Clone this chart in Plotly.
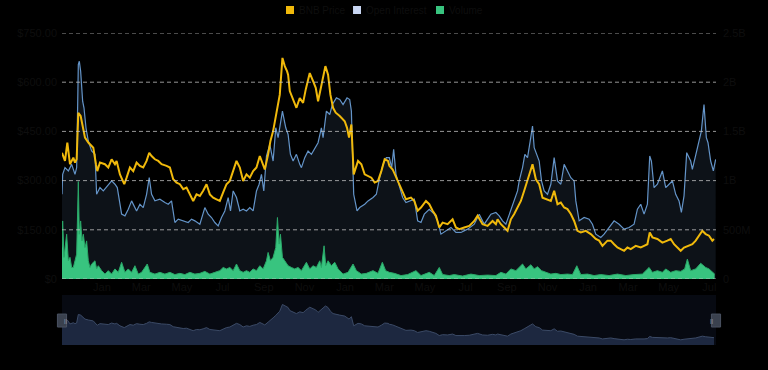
import pandas as pd
import plotly.graph_objects as go

# ---------------- data ----------------
start_date = "2021-11-02"
span_days = 982

price_days = [0, 4.5, 8, 12, 17, 19.5, 22, 24.5, 28, 32, 34.5, 39.5, 44.5, 47, 51, 53, 57, 64.5, 69.5, 74.5,
              79.5, 82, 87, 93.5, 97, 102, 107, 112, 117, 122, 127, 131, 134.5, 139.5, 144.5, 149.5, 157, 162, 167, 172,
              177, 182, 187, 192, 197, 202, 207, 212, 217, 222, 227, 232, 237, 242, 247, 252, 257, 262, 267, 272,
              277, 282, 287, 292, 297, 299.5, 304.5, 309.5, 313, 317, 321, 324.5, 327, 331, 334.5, 338, 339.5, 342, 347, 352,
              357, 362, 366, 369.5, 372, 377, 381, 384.5, 389.5, 392, 395.5, 399.5, 403, 407, 411, 417, 424.5, 428, 431, 434.5,
              438, 444.5, 449.5, 454.5, 459.5, 464.5, 469.5, 474.5, 479.5, 484.5, 489.5,
              491.5, 496.5, 504, 511.5, 516.5, 524, 529, 534, 539, 546.5, 551.5, 556.5, 561.5, 566.5, 571.5, 579, 586.5, 591.5,
              596.5, 604, 611.5, 619, 624, 631.5, 639, 646.5, 651.5, 654, 659, 669, 674, 679, 684, 689, 694, 701.5, 706.5,
              711.5, 716.5, 721.5, 726.5, 734, 739, 744, 749, 754, 759, 764, 769, 774, 779, 786.5, 794, 801.5, 806.5, 811.5,
              819, 824, 829, 834, 839, 844, 849, 854, 861.5, 869, 874, 879, 882.5, 886.5, 894, 901.5, 909, 914, 919, 924,
              929, 934, 941.5, 946.5, 951.5, 956.5, 961.5, 966.5, 971.5, 976.5, 979]
price_usd = [385, 360, 416, 350, 370, 355, 365, 507, 497, 461, 431, 416, 405, 400, 350, 329, 355, 350, 340, 365,
             350, 360, 319, 289, 309, 340, 329, 355, 345, 340, 360, 385, 375, 365, 360, 350, 345, 340, 304, 294,
             289, 274, 279, 258, 238, 258, 253, 269, 289, 258, 248, 243, 238, 264, 289, 299, 329, 360, 340, 299,
             319, 309, 329, 340, 375, 360, 334, 380, 421, 451, 492, 532, 562, 674, 649, 633, 623, 573, 547, 522,
             552, 537, 578, 613, 628, 603, 583, 542, 593, 623, 649, 623, 562, 522, 507, 497, 481, 461, 431, 471,
             319, 360, 350, 319, 314, 309, 294, 299, 329, 365, 360,
             345, 334, 299, 269, 243, 248, 238, 208, 218, 238, 228, 208, 193, 157, 172, 167, 182, 157,
             152, 157, 162, 177, 193, 167, 162, 177, 167, 182, 167, 147, 182, 198, 218, 238, 269, 319, 350,
             304, 289, 248, 243, 238, 269, 228, 233, 218, 213, 198, 177, 147, 142, 147, 137, 122, 117, 101,
             117, 117, 106, 96, 91, 86, 96, 91, 101, 96, 101, 106, 142, 127, 122, 111, 117, 122, 106, 96,
             86, 96, 101, 106, 117, 132, 147, 137, 132, 117, 122]

oi_days = [0, 1, 4.5, 9.5, 14.5, 19.5, 22, 24.5, 26, 28, 31, 33, 36, 39.5, 44.5, 49.5, 52, 57, 62, 69.5,
           74.5, 79.5, 83, 89.5, 94.5, 99.5, 104.5, 112, 117, 122, 127, 131, 134.5, 139.5, 147, 154.5, 159.5, 164.5, 169.5, 174.5,
           182, 189.5, 194.5, 199.5, 207, 214.5, 219.5, 224.5, 229.5, 234.5, 239.5, 244.5, 249.5, 253, 257, 262, 267, 272, 277, 282,
           287, 292, 296, 299.5, 303, 307, 312, 317, 321, 324.5, 331, 336, 339.5, 343, 347, 352, 357, 359.5, 364.5, 369.5,
           374.5, 379.5, 384.5, 389.5, 392, 397, 402, 406, 412, 417, 422, 428, 432, 434.5, 438, 443, 447, 454.5, 459.5, 467,
           472, 477, 482, 487,
           491.5, 495, 498, 501.5, 511.5, 516.5, 521.5, 529, 534, 539, 544, 551.5, 559, 564, 569, 576.5, 584, 591.5, 599, 609,
           619, 626.5, 634, 644, 651.5, 656.5, 661.5, 666.5, 671.5, 676.5, 679, 684, 686.5, 691.5, 695, 699, 703, 706.5, 709, 713,
           716.5, 720, 724, 729, 734, 739, 744, 749, 754, 759, 764, 769, 771.5, 776.5, 784, 791.5, 796.5, 801.5, 809, 814,
           821.5, 829, 836.5, 844, 851.5, 859, 864, 869, 874, 879, 882.5, 885, 889, 894, 901.5, 906.5, 911.5, 916.5, 921.5, 926.5,
           930, 934, 938, 944, 946.5, 951.5, 956.5, 960, 964, 967.5, 970, 974, 978, 981.5]
oi_usd_m = [861, 1064, 1132, 1098, 1165, 1064, 1132, 2179, 2213, 2111, 1807, 1740, 1537, 1402, 1301, 1267, 861, 929, 895, 963,
            997, 963, 929, 659, 642, 709, 794, 692, 760, 726, 861, 1030, 861, 794, 811, 777, 760, 794, 574, 608,
            591, 574, 608, 591, 557, 726, 659, 625, 574, 540, 625, 692, 828, 692, 895, 828, 692, 709, 692, 726,
            692, 895, 963, 1064, 895, 1250, 1368, 1199, 1537, 1436, 1706, 1537, 1469, 1267, 1199, 1267, 1165, 1132, 1233, 1301,
            1267, 1334, 1385, 1537, 1436, 1706, 1672, 1773, 1841, 1824, 1773, 1841, 1824, 1706, 861, 692, 726, 760, 794, 828,
            861, 1030, 1165, 1233,
            1233, 1132, 1317, 1064, 828, 777, 794, 811, 591, 574, 659, 709, 659, 591, 456, 490, 524, 473, 473, 507,
            557, 659, 557, 659, 676, 642, 591, 557, 659, 760, 794, 895, 997, 1132, 1267, 1233, 1402, 1554, 1334, 1267,
            1199, 997, 895, 861, 963, 1233, 997, 963, 1165, 1098, 1030, 997, 794, 591, 625, 608, 557, 456, 422, 456,
            524, 591, 557, 507, 524, 557, 709, 760, 659, 760, 1250, 1199, 929, 963, 1098, 929, 963, 997, 861, 794,
            676, 845, 1284, 1199, 1115, 1267, 1402, 1503, 1773, 1436, 1385, 1199, 1098, 1216]

vol_days = [0, 1, 3, 4.5, 7, 9.5, 12, 14.5, 17, 19.5, 22, 24.5, 26, 28, 30, 32, 34.5, 37, 39.5, 42,
            44.5, 49.5, 52, 54.5, 59.5, 64.5, 69.5, 74.5, 79.5, 84.5, 89.5, 94.5, 99.5, 104.5, 109.5, 114.5, 119.5, 128, 132, 139.5,
            147, 154.5, 162, 169.5, 177, 184.5, 192, 199.5, 207, 214.5, 222, 229.5, 237, 242, 247, 252, 257, 262, 267, 272,
            277, 282, 287, 292, 297, 302, 307, 309.5, 313, 317, 321, 323.5, 326, 328, 331, 334.5, 339.5, 344.5, 349.5, 354.5,
            359.5, 367, 372, 377, 382, 387, 389.5, 393.5, 396, 399.5, 404.5, 409.5, 414.5, 422, 429.5, 437, 442, 449.5, 457, 467,
            474.5, 481, 486,
            491.5, 499, 509, 519, 531.5, 539, 551.5, 559, 566.5, 571.5, 581.5, 589, 601.5, 614, 626.5, 639, 651.5, 659, 666.5, 674,
            681.5, 686.5, 691.5, 696.5, 704, 709, 714, 720, 726.5, 734, 741.5, 749, 759, 766.5, 773, 779, 789, 799, 809, 821.5,
            834, 846.5, 859, 871.5, 881.5, 886.5, 894, 901.5, 906.5, 914, 921.5, 929, 935, 939, 944, 951.5, 959, 963, 966.5, 971.5,
            976.5, 980]
vol_usd_b = [1.28, 2.36, 0.88, 1.28, 1.82, 0.74, 0.88, 0.47, 0.47, 0.74, 1.01, 3.96, 1.82, 2.36, 1.55, 1.82, 1.28, 1.55, 0.74, 0.47,
             0.61, 0.74, 0.41, 0.54, 0.34, 0.20, 0.34, 0.20, 0.41, 0.27, 0.68, 0.27, 0.41, 0.27, 0.54, 0.20, 0.27, 0.61, 0.27, 0.20,
             0.27, 0.20, 0.27, 0.18, 0.23, 0.18, 0.27, 0.20, 0.23, 0.31, 0.20, 0.27, 0.34, 0.47, 0.41, 0.47, 0.34, 0.61, 0.34, 0.27,
             0.34, 0.27, 0.41, 0.34, 0.54, 0.41, 0.74, 1.08, 0.74, 0.88, 1.28, 2.50, 1.42, 1.82, 0.88, 0.74, 0.54, 0.47, 0.41, 0.47,
             0.34, 0.68, 0.41, 0.54, 0.47, 0.74, 0.47, 1.35, 0.54, 0.74, 0.54, 0.68, 0.41, 0.20, 0.27, 0.61, 0.34, 0.20, 0.23, 0.34,
             0.23, 0.68, 0.34,
             0.27, 0.23, 0.14, 0.18, 0.34, 0.14, 0.27, 0.14, 0.47, 0.18, 0.14, 0.18, 0.12, 0.20, 0.14, 0.16, 0.14, 0.27, 0.20, 0.41,
             0.34, 0.47, 0.61, 0.41, 0.58, 0.41, 0.50, 0.34, 0.27, 0.20, 0.23, 0.18, 0.20, 0.18, 0.54, 0.18, 0.20, 0.14, 0.18, 0.14,
             0.20, 0.14, 0.18, 0.20, 0.47, 0.27, 0.34, 0.27, 0.41, 0.27, 0.34, 0.31, 0.41, 0.81, 0.34, 0.41, 0.64, 0.54, 0.47, 0.41,
             0.27, 0.20]

price_ticks = [0, 150, 300, 450, 600, 750]
price_tick_text = ["$0", "$150.00", "$300.00", "$450.00", "$600.00", "$750.00"]
oi_ticks = [0, 500, 1000, 1500, 2000, 2500]
oi_tick_text = ["0", "500M", "1B", "1.5B", "2B", "2.5B"]
series_names = ["BNB Price", "Open Interest", "Volume"]

# ---------------- styling ----------------
C_PRICE = "#f0b90b"
C_OI = "#6494c8"
C_OI_LEG = "#c8d6f2"
C_VOL = "#38c47f"
TXT = "#0e0e0e"
FONT = "Liberation Sans"

t0 = pd.Timestamp(start_date)
def to_dates(days):
    return t0 + pd.to_timedelta(days, unit="D")

x_end = t0 + pd.to_timedelta(span_days, unit="D")

fig = go.Figure()

# open interest (main y, right side) - drawn first
fig.add_trace(go.Scatter(x=to_dates(oi_days), y=oi_usd_m, mode="lines", name=series_names[1],
                         line=dict(color=C_OI, width=1.2), fill="tozeroy", fillcolor="#0d1218",
                         xaxis="x", yaxis="y", hoverinfo="skip"))
# price (left axis)
fig.add_trace(go.Scatter(x=to_dates(price_days), y=price_usd, mode="lines", name=series_names[0],
                         line=dict(color=C_PRICE, width=2), xaxis="x", yaxis="y2", hoverinfo="skip"))
# volume (hidden axis)
fig.add_trace(go.Scatter(x=to_dates(vol_days), y=vol_usd_b, mode="lines", name=series_names[2],
                         line=dict(color="#2aa868", width=1), fill="tozeroy", fillcolor=C_VOL,
                         xaxis="x", yaxis="y3", hoverinfo="skip"))
# slider preview of price
fig.add_trace(go.Scatter(x=to_dates(price_days), y=price_usd, mode="lines",
                         line=dict(color="#3b4a66", width=1), fill="tozeroy", fillcolor="#1d2840",
                         xaxis="x2", yaxis="y4", hoverinfo="skip"))

main_dom = [0.2115, 1.0]
fig.update_layout(
    width=768, height=370,
    paper_bgcolor="#000000", plot_bgcolor="#000000",
    margin=dict(l=62, r=52, t=33, b=25, autoexpand=False),
    font=dict(family=FONT, size=11, color=TXT),
    showlegend=False,
    xaxis=dict(domain=[0, 1], anchor="y", type="date", range=[t0, x_end], showgrid=False,
               zeroline=False, showline=False, ticks="", tickfont=dict(color=TXT, size=11),
               tickformat="%b", dtick="M2", tick0="2022-01-01"),
    yaxis=dict(domain=main_dom, anchor="x", side="right", range=[0, 2500], tickvals=oi_ticks,
               ticktext=oi_tick_text, showgrid=False, zeroline=False, showline=False,
               tickfont=dict(color=TXT), ticklabelstandoff=6),
    yaxis2=dict(overlaying="y", side="left", range=[0, 750], tickvals=price_ticks,
                ticktext=price_tick_text, showgrid=False, zeroline=False, showline=False,
                tickfont=dict(color=TXT), anchor="x", ticklabelstandoff=4),
    yaxis3=dict(overlaying="y", range=[0, 10], visible=False, anchor="x"),
    xaxis2=dict(domain=[0, 1], anchor="y4", type="date", range=[t0, x_end], showgrid=False,
                zeroline=False, showticklabels=False, showline=False, ticks=""),
    yaxis4=dict(domain=[0, 0.16], anchor="x2", range=[0, 830], visible=False, fixedrange=True),
)

shapes = []
# dashed gridlines on top of the series
for v in oi_ticks:
    shapes.append(dict(type="line", xref="x domain", yref="y", x0=0, x1=1, y0=v, y1=v,
                       line=dict(color="rgba(200,200,200,0.75)", width=1, dash="4px,3px"), layer="above"))
# slider background
shapes.append(dict(type="rect", xref="x2 domain", yref="y4 domain", x0=0, x1=1, y0=0, y1=1,
                   fillcolor="#070a12", line=dict(width=0), layer="below"))
# slider handles
for hx in (0, 1):
    shapes.append(dict(type="rect", xref="x2 domain", yref="y4 domain", x0=hx - 0.007, x1=hx + 0.007,
                       y0=0.36, y1=0.62, fillcolor="#3a414e", line=dict(color="#4a5262", width=1),
                       layer="above"))

# manual top legend: small squares + labels
legend_colors = [C_PRICE, C_OI_LEG, C_VOL]
legend_x = [0.3425, 0.4450, 0.5719]   # left edge of each square (fraction of plot width)
sq_w = 0.0122
for nm, col, lx in zip(series_names, legend_colors, legend_x):
    shapes.append(dict(type="rect", xref="paper", yref="paper", x0=lx, x1=lx + sq_w,
                       y0=1.0 + 19 / 312, y1=1.0 + 27 / 312, fillcolor=col, line=dict(width=0)))
    fig.add_annotation(xref="paper", yref="paper", x=lx + sq_w + 0.005, y=1.0 + 23 / 312,
                       xanchor="left", yanchor="middle", text=nm, showarrow=False,
                       font=dict(size=10, color=TXT, family=FONT))
fig.update_layout(shapes=shapes)
for hx in (0, 1):
    fig.add_annotation(xref="x2 domain", yref="y4 domain", x=hx, y=0.49, text="||", showarrow=False,
                       font=dict(size=6, color="#9aa3b5"))

fig.write_html("out.html", config={"displayModeBar": False},
               post_script="document.body.style.margin='0px';document.body.style.background='#000';")
